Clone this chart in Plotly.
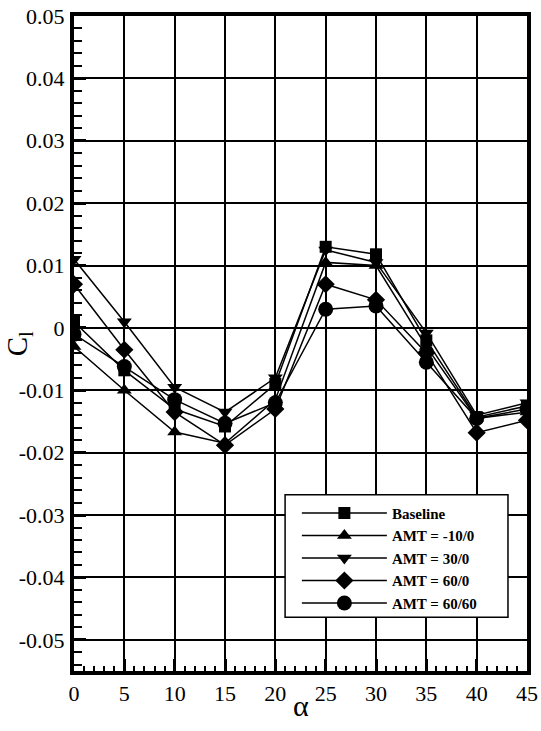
import plotly.graph_objects as go

alpha = [0, 5, 10, 15, 20, 25, 30, 35, 40, 45]
baseline = [0.001, -0.0068, -0.013, -0.0158, -0.009, 0.013, 0.0118, -0.002, -0.0143, -0.0125]
amt_m10_0 = [-0.003, -0.010, -0.0167, -0.0185, -0.0115, 0.0105, 0.0100, -0.003, -0.0145, -0.0135]
amt_30_0 = [0.011, 0.001, -0.0095, -0.0135, -0.008, 0.0125, 0.0105, -0.0008, -0.0140, -0.0120]
amt_60_0 = [0.007, -0.0035, -0.0135, -0.0188, -0.013, 0.007, 0.0045, -0.004, -0.0168, -0.0148]
amt_60_60 = [-0.001, -0.0062, -0.0115, -0.0153, -0.012, 0.003, 0.0035, -0.0055, -0.0145, -0.0130]

series_names = ["Baseline", "AMT = -10/0", "AMT = 30/0", "AMT = 60/0", "AMT = 60/60"]
series_vals = [baseline, amt_m10_0, amt_30_0, amt_60_0, amt_60_60]
symbols = ["square", "triangle-up", "triangle-down", "diamond", "circle"]
sizes = [12, 13, 13, 14, 15]

x_ticks = [0, 5, 10, 15, 20, 25, 30, 35, 40, 45]
y_ticks = [0.05, 0.04, 0.03, 0.02, 0.01, 0, -0.01, -0.02, -0.03, -0.04, -0.05]
y_ticktext = ["0.05", "0.04", "0.03", "0.02", "0.01", "0", "-0.01", "-0.02", "-0.03", "-0.04", "-0.05"]

FONT = "Liberation Serif, Times New Roman, serif"

fig = go.Figure()
for name, vals, sym, sz in zip(series_names, series_vals, symbols, sizes):
    fig.add_trace(go.Scatter(
        x=alpha, y=vals, name=name, mode="lines+markers",
        line=dict(color="black", width=1.5),
        marker=dict(symbol=sym, size=sz, color="black"),
    ))

fig.update_layout(
    width=541, height=731,
    margin=dict(l=74, r=14, t=16, b=60),
    paper_bgcolor="white", plot_bgcolor="white",
    font=dict(family=FONT, color="black", size=19),
    showlegend=True,
    legend=dict(
        x=0.492, y=0.266, xanchor="left", yanchor="top",
        bgcolor="rgba(0,0,0,0)", borderwidth=0,
        font=dict(family=FONT, size=15, color="black", weight="bold"),
        tracegroupgap=0, itemwidth=85,
    ),
    shapes=[dict(
        type="rect", xref="paper", yref="paper",
        x0=0.466, x1=0.958, y0=0.082, y1=0.269,
        line=dict(color="black", width=1.5), fillcolor="white", layer="above",
    )],
    annotations=[
        dict(
            text="C<sub>l</sub>", xref="paper", yref="paper",
            x=-0.122, y=0.5, xanchor="center", yanchor="middle",
            textangle=-90, showarrow=False,
            font=dict(family=FONT, size=29, color="black"),
        ),
        dict(
            text="α", xref="paper", yref="paper",
            x=0.5, y=-0.053, xanchor="center", yanchor="middle",
            showarrow=False,
            font=dict(family=FONT, size=30, color="black"),
        ),
    ],
)

fig.update_xaxes(
    range=[0, 45], tickvals=x_ticks, ticktext=[str(v) for v in x_ticks],
    showgrid=True, gridcolor="black", gridwidth=1.5,
    showline=True, linecolor="black", linewidth=4, mirror=True,
    ticks="inside", ticklen=12, tickwidth=3, tickcolor="black",
    minor=dict(dtick=1, tick0=0, ticks="inside", ticklen=5, tickwidth=1.5, tickcolor="black", showgrid=False),
    zeroline=False, ticklabelstandoff=0, automargin=False, ticklabeloverflow="allow",
    tickfont=dict(family=FONT, size=22),
)
fig.update_yaxes(
    range=[-0.055, 0.05], tickvals=y_ticks, ticktext=y_ticktext,
    showgrid=True, gridcolor="black", gridwidth=1.5,
    showline=True, linecolor="black", linewidth=4, mirror=True,
    ticks="inside", ticklen=12, tickwidth=3, tickcolor="black",
    minor=dict(dtick=0.002, tick0=0, ticks="inside", ticklen=8, tickwidth=1.5, tickcolor="black", showgrid=False),
    zeroline=False, ticklabelstandoff=1, automargin=False, ticklabeloverflow="allow",
    tickfont=dict(family=FONT, size=22),
)

fig.write_html(
    "out.html",
    config={"displayModeBar": False},
    post_script="document.body.style.margin='0';document.body.style.overflow='hidden';",
)
